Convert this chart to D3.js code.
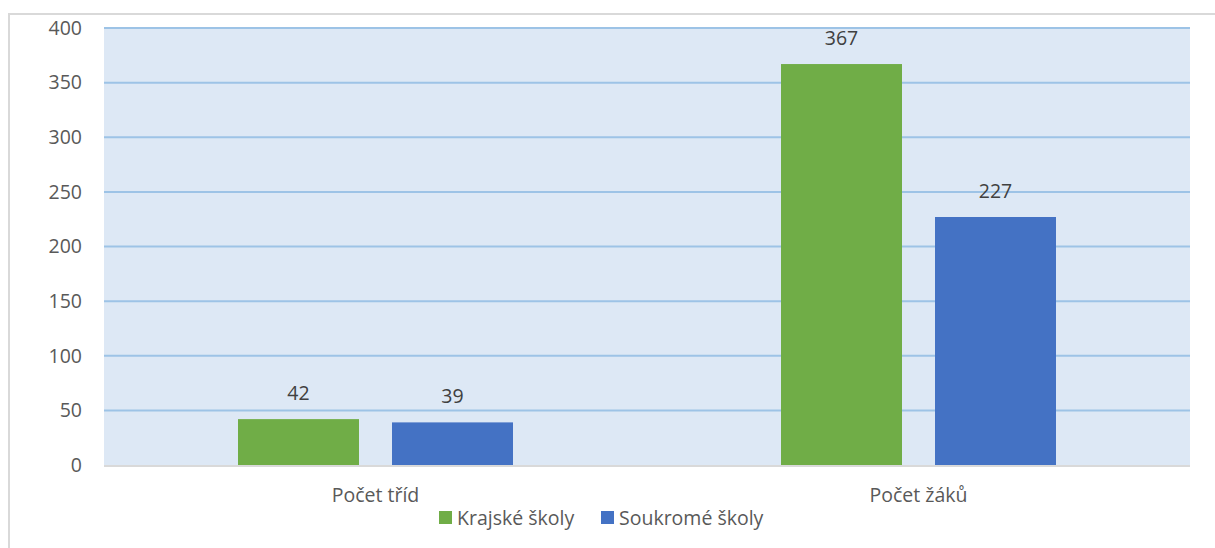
<!DOCTYPE html>
<html>
<head>
<meta charset="utf-8">
<script src="https://cdn.jsdelivr.net/npm/d3@7"></script>
<style>
  body { margin: 0; background: #fff; }
  text { font-family: "Open Sans", sans-serif; }
</style>
</head>
<body>
<svg></svg>
<script>
// Chart data
const categories = ["Počet tříd", "Počet žáků"];
const seriesNames = ["Krajské školy", "Soukromé školy"];
const krajske = [42, 367];
const soukrome = [39, 227];
const yTicks = [0, 50, 100, 150, 200, 250, 300, 350, 400];
const colors = ["#70ad47", "#4472c4"];

const width = 1215, height = 548;
const fontSize = 19.5;
const svg = d3.select("svg").attr("width", width).attr("height", height);

// outer chart border
svg.append("rect")
    .attr("x", 9).attr("y", 14)
    .attr("width", width).attr("height", height)
    .attr("fill", "none").attr("stroke", "#d9d9d9").attr("stroke-width", 2);

const plot = { left: 104, right: 1190, top: 28, bottom: 465 };

const x0 = d3.scaleBand().domain(categories).range([plot.left, plot.right]);
const x1 = d3.scaleBand().domain(seriesNames)
    .range([134, 134 + 275]).paddingInner(33 / 154);
const y = d3.scaleLinear().domain([0, 400]).range([plot.bottom, plot.top]);

// plot background
svg.append("rect")
    .attr("x", plot.left).attr("y", plot.top)
    .attr("width", plot.right - plot.left).attr("height", plot.bottom - plot.top)
    .attr("fill", "#dde8f5");

// gridlines
svg.append("g").selectAll("line")
    .data(yTicks.filter(d => d > 0))
    .join("line")
    .attr("x1", plot.left).attr("x2", plot.right)
    .attr("y1", d => y(d)).attr("y2", d => y(d))
    .attr("stroke", "#9dc3e6").attr("stroke-width", 2);

// y axis labels
const yAxis = svg.append("g")
    .attr("transform", `translate(${plot.left - 22},0)`)
    .call(d3.axisLeft(y).tickValues(yTicks).tickSize(0).tickPadding(0));
yAxis.select(".domain").remove();
yAxis.selectAll("text")
    .attr("font-size", fontSize).attr("fill", "#595959")
    .style("font-family", "'Open Sans', sans-serif");

// bars
const rows = categories.map((c, i) => ({ cat: c, values: [krajske[i], soukrome[i]] }));
const groups = svg.append("g").selectAll("g")
    .data(rows).join("g")
    .attr("transform", d => `translate(${x0(d.cat)},0)`);

groups.selectAll("rect")
    .data(d => d.values.map((v, j) => ({ key: seriesNames[j], value: v, j })))
    .join("rect")
    .attr("x", d => x1(d.key))
    .attr("width", x1.bandwidth())
    .attr("y", d => y(d.value))
    .attr("height", d => y(0) - y(d.value))
    .attr("fill", d => colors[d.j]);

groups.selectAll("text")
    .data(d => d.values.map((v, j) => ({ key: seriesNames[j], value: v })))
    .join("text")
    .attr("x", d => x1(d.key) + x1.bandwidth() / 2)
    .attr("y", d => y(d.value) - 19)
    .attr("text-anchor", "middle")
    .attr("font-size", fontSize).attr("fill", "#404040")
    .text(d => d.value);

// baseline
svg.append("line")
    .attr("x1", plot.left).attr("x2", plot.right)
    .attr("y1", plot.bottom + 1).attr("y2", plot.bottom + 1)
    .attr("stroke", "#d9d9d9").attr("stroke-width", 2);

// category labels
svg.append("g").selectAll("text")
    .data(categories).join("text")
    .attr("x", d => x0(d) + x0.bandwidth() / 2)
    .attr("y", 502)
    .attr("text-anchor", "middle")
    .attr("font-size", fontSize).attr("fill", "#595959")
    .text(d => d);

// legend
const legendX = [439, 601];
const legend = svg.append("g").selectAll("g")
    .data(seriesNames).join("g")
    .attr("transform", (d, i) => `translate(${legendX[i]},511)`);
legend.append("rect")
    .attr("width", 13).attr("height", 13)
    .attr("fill", (d, i) => colors[i]);
legend.append("text")
    .attr("x", 18).attr("y", 14)
    .attr("font-size", fontSize).attr("fill", "#595959")
    .text(d => d);
</script>
</body>
</html>
